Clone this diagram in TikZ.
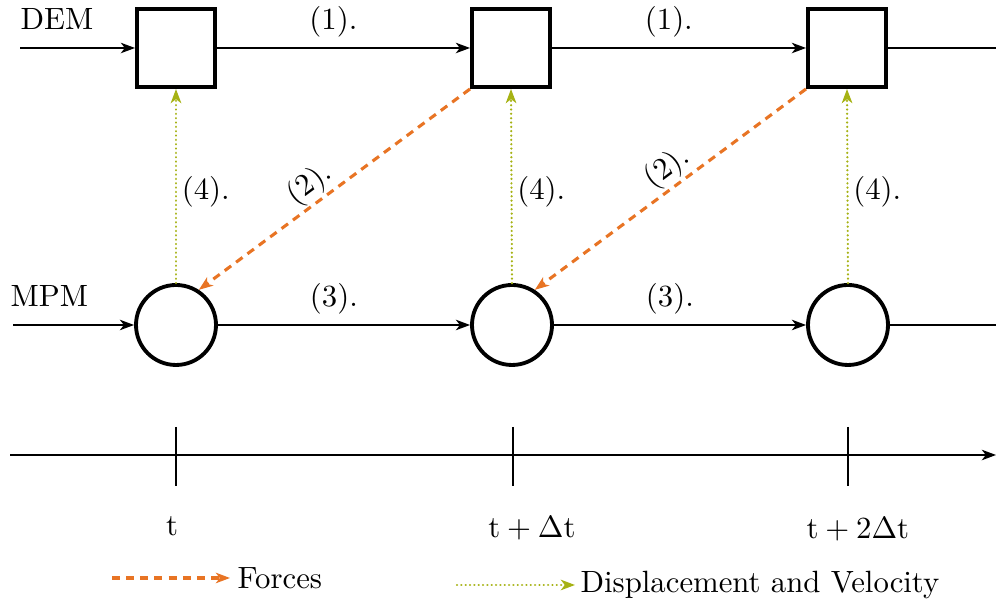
\documentclass[tikz,border=0pt]{standalone}
\usetikzlibrary{arrows.meta}
\definecolor{forcec}{RGB}{232,116,36}
\definecolor{dispc}{RGB}{166,178,20}
\begin{document}
\begin{tikzpicture}[x=0.325pt,y=-0.325pt,
  demnode/.style={draw,line width=1.45pt,minimum size=25.2pt,inner sep=0pt},
  mpmnode/.style={draw,circle,line width=1.25pt,minimum size=26pt,inner sep=0pt},
  tip/.style={-{Stealth[length=4.6pt,width=3.4pt,inset=1.3pt]}},
  flow/.style={line width=0.65pt,tip},
  plain/.style={line width=0.65pt},
  force/.style={forcec,line width=1pt,dash pattern=on 2.6pt off 2pt,tip},
  disp/.style={dispc,line width=0.8pt,line cap=round,dash pattern=on 0.01pt off 1.4pt,tip},
  lbl/.style={text=black}
]
\useasboundingbox (0,0) rectangle (996,604);

% DEM row
\node[demnode] (d1) at (176,48) {};
\node[demnode] (d2) at (511,48) {};
\node[demnode] (d3) at (847,48) {};
% MPM row
\node[mpmnode] (m1) at (176,325) {};
\node[mpmnode] (m2) at (512,325) {};
\node[mpmnode] (m3) at (848,325) {};

\node[anchor=base west,inner sep=0pt] (demlbl) at (20,30) {DEM};
\node[anchor=base west,inner sep=0pt] (mpmlbl) at (10,307) {MPM};

\coordinate (demin) at (20,48);
\coordinate (demout) at (996,48);
\coordinate (mpmin) at (13,325);
\coordinate (mpmout) at (996,325);

\draw[flow] (demin) -- (d1);
\draw[flow] (d1) -- node[pos=0.46,above] {(1).} (d2);
\draw[flow] (d2) -- node[pos=0.46,above] {(1).} (d3);
\draw[plain] (d3) -- (demout);

\draw[flow] (mpmin) -- (m1);
\draw[flow] (m1) -- node[pos=0.46,above] {(3).} (m2);
\draw[flow] (m2) -- node[pos=0.46,above] {(3).} (m3);
\draw[plain] (m3) -- (mpmout);

% displacement and velocity
\draw[disp] (m1.north) -- node[lbl,right,pos=0.47,inner sep=1.5pt] {(4).} (d1.south);
\draw[disp] (m2.north) -- node[lbl,right,pos=0.47,inner sep=1.5pt] {(4).} (d2.south);
\draw[disp] (m3.north) -- node[lbl,right,pos=0.47,inner sep=1.5pt] {(4).} (d3.south);

% forces
\draw[force] (d2.south west) -- node[lbl,sloped,above,pos=0.55,inner sep=0.5pt] {(2).} (m1.57);
\draw[force] (d3.south west) -- node[lbl,sloped,above,pos=0.47,inner sep=0.5pt] {(2).} (m2.57);

% time axis
\coordinate (ta) at (10,455);
\coordinate (tb) at (996,455);
\draw[flow] (ta) -- (tb);
\coordinate (k1a) at (176,427); \coordinate (k1b) at (176,486);
\coordinate (k2a) at (513,427); \coordinate (k2b) at (513,486);
\coordinate (k3a) at (848,427); \coordinate (k3b) at (848,486);
\draw[plain] (k1a) -- (k1b);
\draw[plain] (k2a) -- (k2b);
\draw[plain] (k3a) -- (k3b);
\node[anchor=base] (t1) at (172,536) {$\mathrm{t}$};
\node[anchor=base] (t2) at (532,538) {$\mathrm{t}+\Delta\mathrm{t}$};
\node[anchor=base] (t3) at (858,539) {$\mathrm{t}+2\Delta\mathrm{t}$};

% legend
\coordinate (fa) at (112,578);
\coordinate (fb) at (230,578);
\draw[force] (fa) -- (fb);
\node[anchor=west,inner sep=0pt] (forces) at (237,578) {Forces};
\coordinate (va) at (457,585);
\coordinate (vb) at (575,585);
\draw[disp] (va) -- (vb);
\node[anchor=west,inner sep=0pt] (dispv) at (580,585) {Displacement and Velocity};
\end{tikzpicture}
\end{document}
